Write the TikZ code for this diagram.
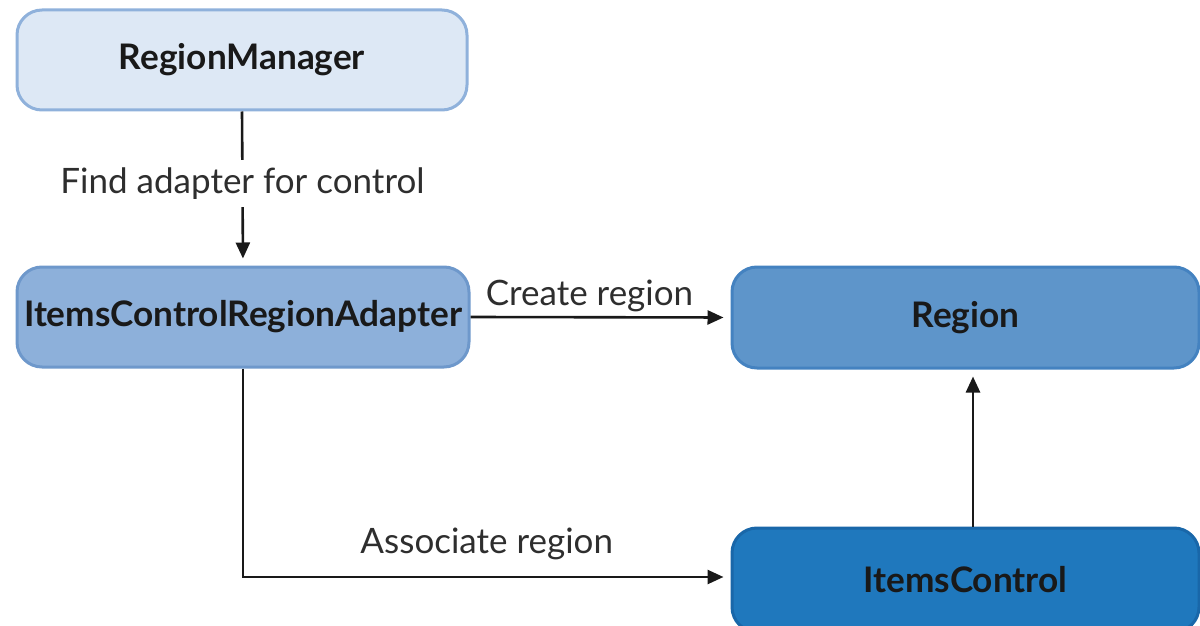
\documentclass[tikz,border=0pt]{standalone}
\usepackage{fontspec}
\setmainfont{Lato}
\usetikzlibrary{arrows.meta,calc}

\definecolor{mgrfill}{HTML}{DDE8F5}
\definecolor{mgrline}{HTML}{8FB1DB}
\definecolor{adpfill}{HTML}{8DB0DA}
\definecolor{adpline}{HTML}{6E98CB}
\definecolor{regfill}{HTML}{5E95CA}
\definecolor{regline}{HTML}{4482C0}
\definecolor{ctlfill}{HTML}{1F78BD}
\definecolor{ctlline}{HTML}{1967A9}
\definecolor{labeltext}{HTML}{2E2E2E}

\tikzset{
  box/.style={draw, line width=1.5pt, rounded corners=12.5pt, inner sep=0pt,
    font=\fontsize{17.6}{20}\selectfont\bfseries, text=black!90},
  flow/.style={line width=1.3pt, black!90,
    -{Triangle[length=8pt,width=7pt]}, shorten >=3.5pt},
  flowlabel/.style={font=\fontsize{17.5}{20}\selectfont, text=labeltext,
    inner sep=2pt}
}

\begin{document}
\begin{tikzpicture}[x=0.5pt,y=-0.5pt]
  \useasboundingbox (0,0) rectangle (1200,626);
  \clip (0,0) rectangle (1200,626);

  % component boxes
  \node[box, fill=mgrfill, draw=mgrline, minimum width=225pt, minimum height=50pt]
    (mgr) at (242,60) {RegionManager};
  \node[box, fill=adpfill, draw=adpline, minimum width=226pt, minimum height=50pt]
    (adp) at (243,317) {ItemsControlRegionAdapter};
  \node[box, fill=regfill, draw=regline, minimum width=233.5pt, minimum height=50.5pt]
    (reg) at (965.5,317.5) {Region};
  \node[box, fill=ctlfill, draw=ctlline, minimum width=233.5pt, minimum height=52pt]
    (ctl) at (965.5,580) {ItemsControl};

  % connectors
  \draw[flow] (mgr.south) -- (adp.north)
    node[midway, fill=white, flowlabel, inner ysep=4pt, yshift=2.5pt] {Find adapter for control};
  \draw[flow] (adp.east) -- (reg.west)
    node[midway, above, flowlabel, xshift=-5.5pt] {Create region};
  \draw[flow] (adp.south) |- ([yshift=1.5pt]ctl.west)
    node[pos=0.75, above, flowlabel, yshift=6pt] {Associate region};
  \draw[flow] ([xshift=3.75pt]ctl.north) -- ([xshift=3.75pt]reg.south);
\end{tikzpicture}
\end{document}
